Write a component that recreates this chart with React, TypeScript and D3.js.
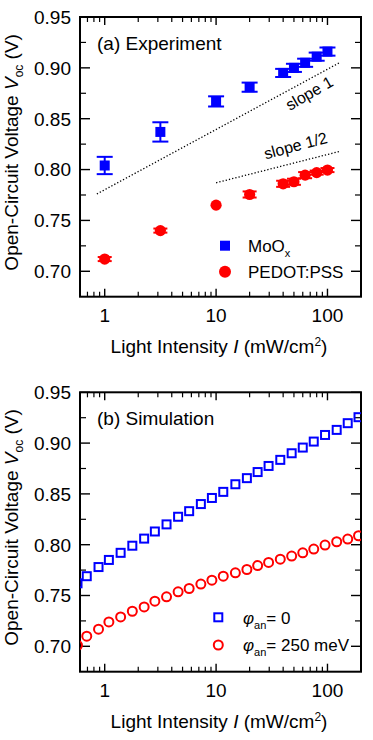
import * as d3 from 'd3'

// (a) Experiment
const expIntensity = [1, 3.16, 10, 20, 40, 50, 63, 80, 100]
const mooxVoc = [0.804, 0.837, 0.867, 0.881, 0.895, 0.9, 0.905, 0.911, 0.916]
const mooxErr = [0.0085, 0.0095, 0.005, 0.0045, 0.004, 0.004, 0.004, 0.004, 0.004]
const pedotVoc = [0.712, 0.74, 0.765, 0.7755, 0.786, 0.788, 0.7945, 0.797, 0.7995]
const pedotErr = [0.002, 0.002, 0, 0.003, 0.003, 0.003, 0.003, 0.002, 0.002]

// reference slopes: [intensity, Voc] end points
const slopeOne: [number, number][] = [[0.85, 0.776], [128, 0.905]]
const slopeHalf: [number, number][] = [[10, 0.787], [130, 0.818]]

// (b) Simulation
const simIntensity = [
  0.57, 0.69, 0.88, 1.09, 1.39, 1.77, 2.26, 2.82, 3.59, 4.56, 5.73, 7.3, 9.17,
  11.6, 14.9, 18.9, 23.6, 29.6, 37.7, 47.7, 60, 75.3, 95.1, 121, 152, 190,
]
const simVocZero = [
  0.762, 0.769, 0.778, 0.785, 0.792, 0.799, 0.806, 0.813, 0.82, 0.8275, 0.833,
  0.84, 0.846, 0.852, 0.8595, 0.8655, 0.8715, 0.8775, 0.8835, 0.89, 0.8956,
  0.9015, 0.908, 0.913, 0.9196, 0.9255,
]
const simVoc250 = [
  0.701, 0.71, 0.7168, 0.724, 0.7289, 0.7345, 0.7388, 0.7444, 0.7487, 0.7536,
  0.7569, 0.7612, 0.7651, 0.769, 0.7723, 0.7756, 0.7795, 0.7825, 0.7858, 0.7888,
  0.792, 0.7957, 0.7996, 0.8029, 0.8055, 0.8088,
]

const xTickLabels = [1, 10, 100]
const yTickLabels = [0.7, 0.75, 0.8, 0.85, 0.9, 0.95]
const yMinor = [0.725, 0.775, 0.825, 0.875, 0.925]

const FONT = '"Liberation Sans", Arial, Helvetica, sans-serif'
const BLUE = '#0000ff'
const RED = '#ff0000'

const left = 80
const right = 361

function Frame({ top, bottom, id }: { top: number; bottom: number; id: string }) {
  const x = d3.scaleLog().domain([0.6, 200]).range([left, right])
  const y = d3.scaleLinear().domain([0.675, 0.95]).range([bottom, top])
  const minorX = x.ticks().filter((t) => !xTickLabels.includes(t))
  const midY = (top + bottom) / 2 - 4.5

  return (
    <g>
      <clipPath id={id}>
        <rect x={left} y={top} width={right - left} height={bottom - top} />
      </clipPath>
      {/* inward ticks on all four sides */}
      {xTickLabels.map((t) => (
        <g key={'xM' + t} stroke="#000" strokeWidth={1.4}>
          <line x1={x(t)} x2={x(t)} y1={bottom} y2={bottom - 8} />
          <line x1={x(t)} x2={x(t)} y1={top} y2={top + 8} />
        </g>
      ))}
      {minorX.map((t) => (
        <g key={'xm' + t} stroke="#000" strokeWidth={1.2}>
          <line x1={x(t)} x2={x(t)} y1={bottom} y2={bottom - 5} />
          <line x1={x(t)} x2={x(t)} y1={top} y2={top + 5} />
        </g>
      ))}
      {yTickLabels.map((t) => (
        <g key={'yM' + t} stroke="#000" strokeWidth={1.4}>
          <line x1={left} x2={left + 10} y1={y(t)} y2={y(t)} />
          <line x1={right} x2={right - 10} y1={y(t)} y2={y(t)} />
        </g>
      ))}
      {yMinor.map((t) => (
        <g key={'ym' + t} stroke="#000" strokeWidth={1.2}>
          <line x1={left} x2={left + 6} y1={y(t)} y2={y(t)} />
          <line x1={right} x2={right - 6} y1={y(t)} y2={y(t)} />
        </g>
      ))}
      <rect x={left} y={top} width={right - left} height={bottom - top} fill="none" stroke="#000" strokeWidth={2} />

      {yTickLabels.map((t) => (
        <text key={'yl' + t} x={71} y={y(t)} dy="0.36em" textAnchor="end" fontSize={19}>
          {d3.format('.2f')(t)}
        </text>
      ))}
      {xTickLabels.map((t) => (
        <text key={'xl' + t} x={x(t)} y={bottom + 25} textAnchor="middle" fontSize={19}>
          {t}
        </text>
      ))}
      <text x={219} y={bottom + 56} textAnchor="middle" fontSize={19}>
        Light Intensity <tspan fontStyle="italic">I</tspan> (mW/cm
        <tspan dy={-7} fontSize={12}>2</tspan>
        <tspan dy={7}>)</tspan>
      </text>
      <text transform={`translate(17.5,${midY}) rotate(-90)`} textAnchor="middle" fontSize={19}>
        Open-Circuit Voltage <tspan fontStyle="italic">V</tspan>
        <tspan dy={5} fontSize={12}>oc</tspan>
        <tspan dy={-5}> (V)</tspan>
      </text>
    </g>
  )
}

function Experiment() {
  const top = 17
  const bottom = 296.7
  const x = d3.scaleLog().domain([0.6, 200]).range([left, right])
  const y = d3.scaleLinear().domain([0.675, 0.95]).range([bottom, top])
  const line = d3
    .line<[number, number]>()
    .x((d) => x(d[0]))
    .y((d) => y(d[1]))

  return (
    <g>
      <Frame top={top} bottom={bottom} id="clipA" />
      <path d={line(slopeOne) || ''} fill="none" stroke="#000" strokeWidth={1.3} strokeDasharray="1.3,2" />
      <path d={line(slopeHalf) || ''} fill="none" stroke="#000" strokeWidth={1.3} strokeDasharray="1.3,2" />
      <text transform={`translate(312,98) rotate(-30)`} textAnchor="middle" fontSize={16}>
        slope 1
      </text>
      <text transform={`translate(297,151) rotate(-15)`} textAnchor="middle" fontSize={16}>
        slope 1/2
      </text>

      {expIntensity.map((v, i) => (
        <g key={'m' + i} stroke={BLUE} strokeWidth={2}>
          <line x1={x(v)} x2={x(v)} y1={y(mooxVoc[i] - mooxErr[i])} y2={y(mooxVoc[i] + mooxErr[i])} />
          <line x1={x(v) - 8} x2={x(v) + 8} y1={y(mooxVoc[i] - mooxErr[i])} y2={y(mooxVoc[i] - mooxErr[i])} />
          <line x1={x(v) - 8} x2={x(v) + 8} y1={y(mooxVoc[i] + mooxErr[i])} y2={y(mooxVoc[i] + mooxErr[i])} />
          <rect x={x(v) - 5} y={y(mooxVoc[i]) - 5} width={10} height={10} fill={BLUE} stroke="none" />
        </g>
      ))}
      {expIntensity.map((v, i) => (
        <g key={'p' + i} stroke={RED} strokeWidth={2}>
          {pedotErr[i] > 0 && (
            <>
              <line x1={x(v) - 7} x2={x(v) + 7} y1={y(pedotVoc[i] - pedotErr[i])} y2={y(pedotVoc[i] - pedotErr[i])} />
              <line x1={x(v) - 7} x2={x(v) + 7} y1={y(pedotVoc[i] + pedotErr[i])} y2={y(pedotVoc[i] + pedotErr[i])} />
            </>
          )}
          <circle cx={x(v)} cy={y(pedotVoc[i])} r={5.6} fill={RED} stroke="none" />
        </g>
      ))}

      <text x={97} y={50} fontSize={19}>(a) Experiment</text>

      <rect x={220} y={240.7} width={10} height={10} fill={BLUE} />
      <text x={248} y={252} fontSize={17}>
        MoO<tspan dy={5} fontSize={11}>x</tspan>
      </text>
      <circle cx={225} cy={271.7} r={6} fill={RED} />
      <text x={248} y={278} fontSize={17}>PEDOT:PSS</text>
    </g>
  )
}

function Simulation() {
  const top = 392.3
  const bottom = 671.7
  const x = d3.scaleLog().domain([0.6, 200]).range([left, right])
  const y = d3.scaleLinear().domain([0.675, 0.95]).range([bottom, top])

  return (
    <g>
      <Frame top={top} bottom={bottom} id="clipB" />
      <g clipPath="url(#clipB)">
        {simIntensity.map((v, i) => (
          <rect key={'s' + i} x={x(v) - 4} y={y(simVocZero[i]) - 4} width={8} height={8} fill="none" stroke={BLUE} strokeWidth={2} />
        ))}
        {simIntensity.map((v, i) => (
          <circle key={'c' + i} cx={x(v)} cy={y(simVoc250[i])} r={4.5} fill="none" stroke={RED} strokeWidth={2} />
        ))}
      </g>

      <text x={97} y={425} fontSize={19}>(b) Simulation</text>

      <rect x={214.3} y={613.3} width={8} height={8} fill="none" stroke={BLUE} strokeWidth={2} />
      <text x={243} y={624} fontSize={17}>
        <tspan fontStyle="italic">φ</tspan>
        <tspan dy={5} fontSize={11}>an</tspan>
        <tspan dy={-5}>= 0</tspan>
      </text>
      <circle cx={218.3} cy={645} r={4.5} fill="none" stroke={RED} strokeWidth={2} />
      <text x={243} y={651} fontSize={17}>
        <tspan fontStyle="italic">φ</tspan>
        <tspan dy={5} fontSize={11}>an</tspan>
        <tspan dy={-5}>= 250 meV</tspan>
      </text>
    </g>
  )
}

export default function App() {
  return (
    <svg
      width={373}
      height={740}
      style={{ position: 'absolute', left: 0, top: 0, background: '#fff' }}
      fontFamily={FONT}
      fill="#000"
    >
      <Experiment />
      <Simulation />
    </svg>
  )
}
